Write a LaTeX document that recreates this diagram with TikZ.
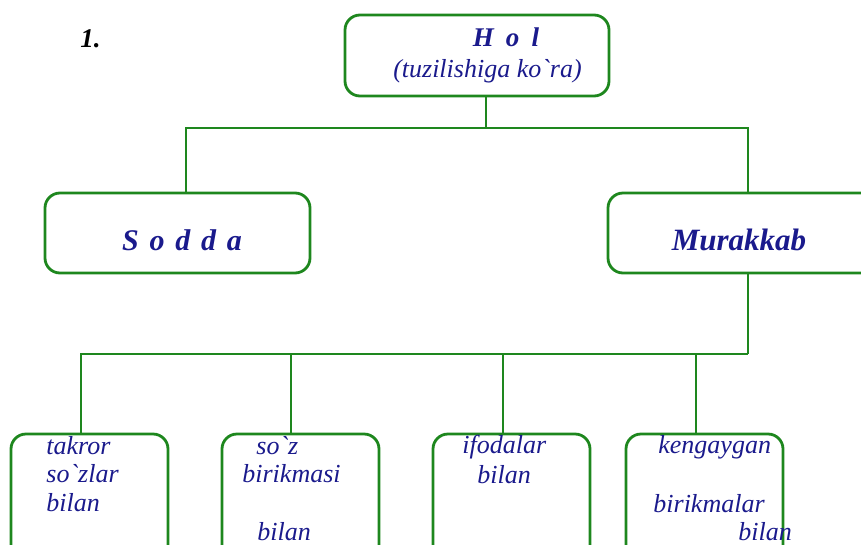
\documentclass[tikz,border=0pt]{standalone}
\usepackage{fontspec}
\setmainfont{Liberation Serif}
\usepackage{xcolor}
\definecolor{linegreen}{RGB}{30,135,30}
\definecolor{textnavy}{RGB}{26,26,140}
\usetikzlibrary{positioning}
\tikzset{box node/.style={draw=linegreen, line width=2.8pt, rounded corners=15pt, minimum width=#1, inner sep=0pt, outer sep=0pt},
  box node/.default=157pt,
  head text/.style={text=textnavy, font=\fontsize{30}{32}\selectfont\bfseries\itshape, inner sep=0pt, anchor=base},
  leaf text/.style={text=textnavy, font=\fontsize{26}{28}\selectfont\itshape, inner sep=0pt, anchor=base west},}

\begin{document}
\begin{tikzpicture}[x=1pt, y=-1pt, line width=2.8pt]
	\useasboundingbox (0,0) rectangle (861,544);
	\clip (0,0) rectangle (861,544);

	\coordinate (upfork) at (486,128);
	\coordinate (lowfork) at (748,354);

	\node[box node=264pt, minimum height=81pt] (hol) at (477,55.5) {};
	\node[box node=265pt, minimum height=80pt] (sodda) at (177.5,233) {};
	\node[box node=280pt, minimum height=80pt] (murakkab) at (748,233) {};
	\node[box node, minimum height=126pt] (b1) at (89.5,497) {};
	\node[box node, minimum height=126pt] (b2) at (300.5,497) {};
	\node[box node, minimum height=126pt] (b3) at (511.5,497) {};
	\node[box node, minimum height=126pt] (b4) at (704.5,497) {};

	\draw[linegreen] (hol.south -| upfork) -- (upfork);
	\draw[linegreen] ([xshift=8.5pt]sodda.north) |- (upfork);
	\draw[linegreen] (murakkab.north) |- (upfork);
	\draw[linegreen] (murakkab.south) -- (lowfork);
	\foreach \b/\dx in {b1/-8.5, b2/-9.5, b3/-8.5, b4/-8.5}
		\draw[linegreen] ([xshift=\dx pt]\b.north) |- (lowfork);

	\node[anchor=base west, inner sep=0pt, font=\fontsize{27}{29}\selectfont\bfseries\itshape] (num) at (79,47) {1.};
	\node[head text, font=\fontsize{27}{29}\selectfont\bfseries\itshape] (holname) at (506,46) {H\hspace{.45em}o\hspace{.45em}l};
	\node[head text, font=\fontsize{26}{28}\selectfont\itshape] (holsub) at (487.5,77) {(tuzilishiga ko\textasciigrave ra)};
	\node[head text] (soddaname) at (182,250) {S\hspace{.36em}o\hspace{.36em}d\hspace{.36em}d\hspace{.36em}a};
	\node[head text, font=\fontsize{31}{33}\selectfont\bfseries\itshape] (murakkabname) at (739,250) {Murakkab};

	\node[leaf text] (t1a) at (45,454) {takror};
	\node[leaf text] (t1b) at (45,482) {so\textasciigrave zlar};
	\node[leaf text] (t1c) at (45,511) {bilan};
	\node[leaf text] (t2a) at (255,454) {so\textasciigrave z};
	\node[leaf text] (t2b) at (241,482) {birikmasi};
	\node[leaf text] (t2c) at (256,540) {bilan};
	\node[leaf text] (t3a) at (461,453) {ifodalar};
	\node[leaf text] (t3b) at (476,483) {bilan};
	\node[leaf text] (t4a) at (657,453) {kengaygan};
	\node[leaf text] (t4b) at (652,512) {birikmalar};
	\node[leaf text] (t4c) at (737,540) {bilan};
\end{tikzpicture}
\end{document}
